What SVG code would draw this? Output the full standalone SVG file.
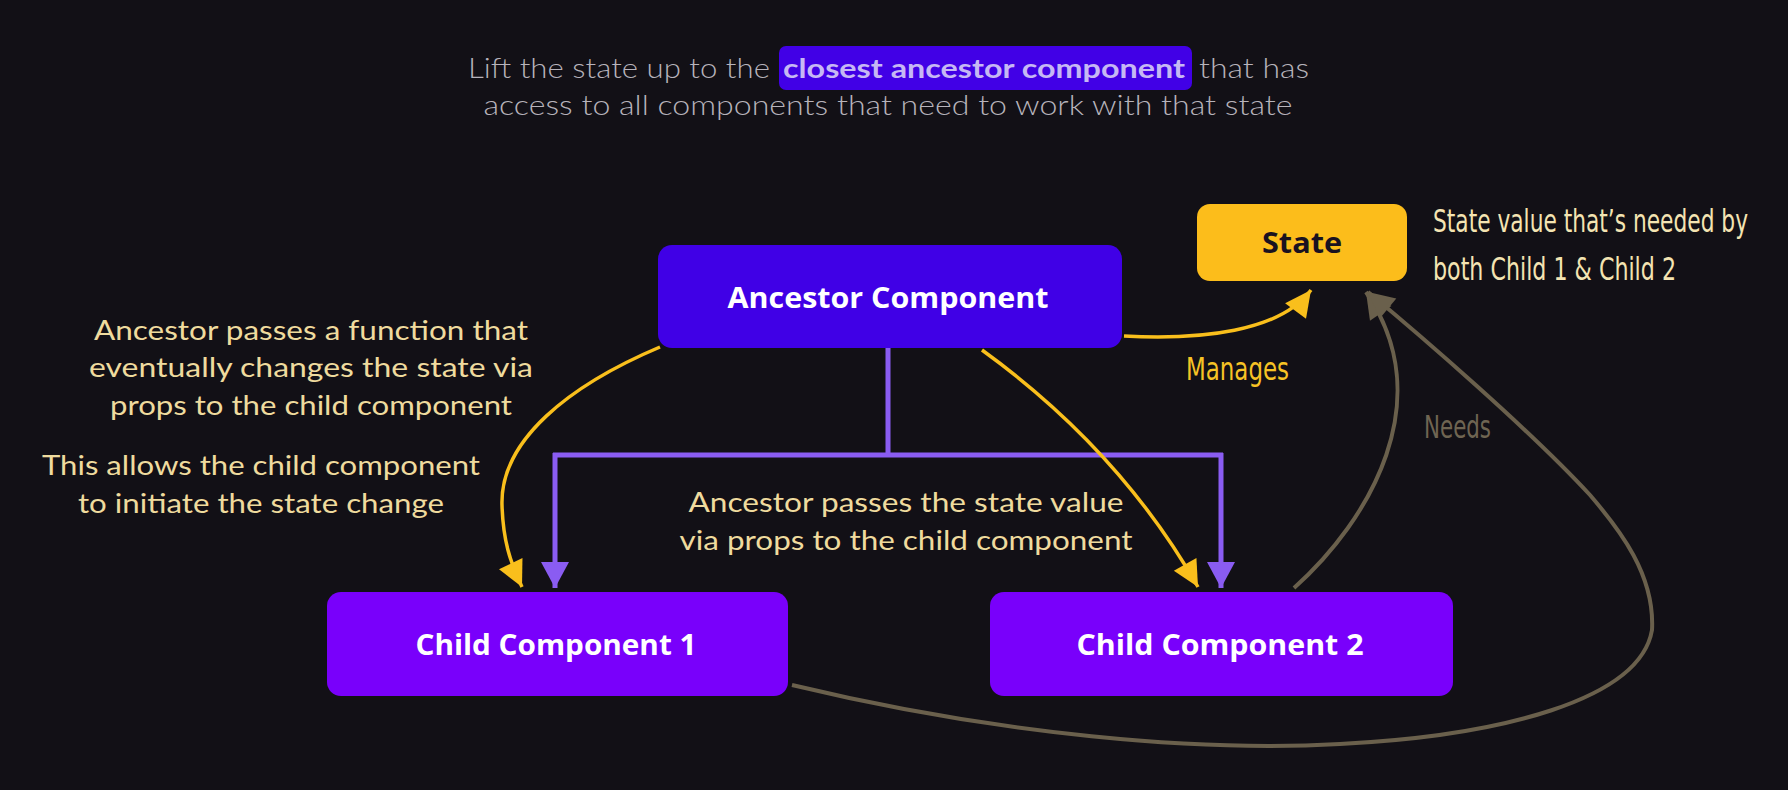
<svg xmlns="http://www.w3.org/2000/svg" width="1788" height="790" viewBox="0 0 1788 790">
<defs>
<style>
.bg{fill:#121016}
.title{font-family:"Lato","Noto Sans",sans-serif;font-size:27px;font-weight:300;fill:#b7b3bb}
.hl{font-family:"Lato","Noto Sans",sans-serif;font-size:27px;font-weight:700;fill:#c6b8f4}
.note{font-family:"Lato","Noto Sans",sans-serif;font-size:27px;fill:#efdb9e}
.hand{font-family:"DejaVu Sans Condensed","DejaVu Sans",sans-serif;font-size:23px}
.nodeText{font-family:"Open Sans","Noto Sans",sans-serif;font-size:28px;font-weight:700;fill:#ffffff;text-anchor:middle}
.purple{fill:none;stroke:#8a5cf2;stroke-width:5}
.yellow{fill:none;stroke:#f9bf1c;stroke-width:3.5}
.brown{fill:none;stroke:#6a604c;stroke-width:4}
</style>
<marker id="mPurple" markerUnits="userSpaceOnUse" markerWidth="32" markerHeight="32" viewBox="-28 -16 30 32" refX="0" refY="0" orient="auto"><path d="M0,0 L-26,-14 L-26,14 Z" fill="#8a5cf2"/></marker>
<marker id="mYellow" markerUnits="userSpaceOnUse" markerWidth="32" markerHeight="32" viewBox="-28 -16 30 32" refX="0" refY="0" orient="auto"><path d="M0,0 L-26,-13 L-26,13 Z" fill="#f9bf1c"/></marker>
<marker id="mBrown" markerUnits="userSpaceOnUse" markerWidth="32" markerHeight="32" viewBox="-28 -16 30 32" refX="0" refY="0" orient="auto"><path d="M0,0 L-26,-13 L-26,13 Z" fill="#6a604c"/></marker>
</defs>
<rect class="bg" x="0" y="0" width="1788" height="790"/>

<g id="title">
<text class="title" x="468" y="78" textLength="302" lengthAdjust="spacingAndGlyphs">Lift the state up to the</text>
<rect x="779" y="46" width="413" height="44" rx="7" fill="#4100e6"/>
<text class="hl" x="783" y="78" textLength="402" lengthAdjust="spacingAndGlyphs">closest ancestor component</text>
<text class="title" x="1199" y="78" textLength="110" lengthAdjust="spacingAndGlyphs">that has</text>
<text class="title" x="888" y="115" text-anchor="middle" textLength="809" lengthAdjust="spacingAndGlyphs">access to all components that need to work with that state</text>
</g>

<g id="connectors">
<path class="purple" d="M 888 348 V 455 M 553 455 H 1223"/>
<path class="purple" d="M 555 453 V 588" marker-end="url(#mPurple)"/>
<path class="purple" d="M 1221 453 V 588" marker-end="url(#mPurple)"/>
<path class="yellow" d="M 660 347 C 570 385, 500 440, 502 505 C 503 540, 510 562, 522 587" marker-end="url(#mYellow)"/>
<path class="yellow" d="M 982 350 Q 1120 450, 1198 587" marker-end="url(#mYellow)"/>
<path class="yellow" d="M 1124 336 C 1200 340, 1280 332, 1311 290" marker-end="url(#mYellow)"/>
<path class="brown" d="M 1294 588 C 1370 520, 1440 400, 1366 292" marker-end="url(#mBrown)"/>
<path class="brown" d="M 792 685 C 1000 735, 1200 752, 1340 744 C 1500 736, 1640 700, 1652 630 C 1655 575, 1620 530, 1590 495 C 1530 430, 1420 335, 1368 292" marker-end="url(#mBrown)"/>
</g>

<g id="ancestor">
<rect x="658" y="245" width="464" height="103" rx="14" fill="#4000e6"/>
<text class="nodeText" x="888" y="308" textLength="321" lengthAdjust="spacingAndGlyphs">Ancestor Component</text>
</g>

<g id="state">
<rect x="1197" y="204" width="210" height="77" rx="13" fill="#fcbd1b"/>
<text class="nodeText" x="1302" y="253" style="fill:#1a1220" textLength="80" lengthAdjust="spacingAndGlyphs">State</text>
</g>

<g id="child1">
<rect x="327" y="592" width="461" height="104" rx="14" fill="#7900fb"/>
<text class="nodeText" x="556" y="655" textLength="281" lengthAdjust="spacingAndGlyphs">Child Component 1</text>
</g>

<g id="child2">
<rect x="990" y="592" width="463" height="104" rx="14" fill="#7900fb"/>
<text class="nodeText" x="1220" y="655" textLength="287" lengthAdjust="spacingAndGlyphs">Child Component 2</text>
</g>

<g id="labels">
<text class="hand" transform="translate(1433,232) scale(1,1.35)" x="0" y="0" fill="#f4e4b2" textLength="315" lengthAdjust="spacingAndGlyphs">State value that’s needed by</text>
<text class="hand" transform="translate(1433,280) scale(1,1.35)" x="0" y="0" fill="#f4e4b2" textLength="243" lengthAdjust="spacingAndGlyphs">both Child 1 &amp; Child 2</text>
<text class="hand" transform="translate(1186,380) scale(1,1.35)" x="0" y="0" fill="#f7c325" textLength="103" lengthAdjust="spacingAndGlyphs">Manages</text>
<text class="hand" transform="translate(1424,438) scale(1,1.35)" x="0" y="0" fill="#6f6552" textLength="67" lengthAdjust="spacingAndGlyphs">Needs</text>
<text class="note" x="311" y="340" text-anchor="middle" textLength="434" lengthAdjust="spacingAndGlyphs">Ancestor passes a function that</text>
<text class="note" x="311" y="377" text-anchor="middle" textLength="444" lengthAdjust="spacingAndGlyphs">eventually changes the state via</text>
<text class="note" x="311" y="415" text-anchor="middle" textLength="402" lengthAdjust="spacingAndGlyphs">props to the child component</text>
<text class="note" x="261" y="475" text-anchor="middle" textLength="438" lengthAdjust="spacingAndGlyphs">This allows the child component</text>
<text class="note" x="261" y="513" text-anchor="middle" textLength="366" lengthAdjust="spacingAndGlyphs">to initiate the state change</text>
<text class="note" x="906" y="512" text-anchor="middle" textLength="435" lengthAdjust="spacingAndGlyphs">Ancestor passes the state value</text>
<text class="note" x="906" y="550" text-anchor="middle" textLength="453" lengthAdjust="spacingAndGlyphs">via props to the child component</text>
</g>
</svg>
